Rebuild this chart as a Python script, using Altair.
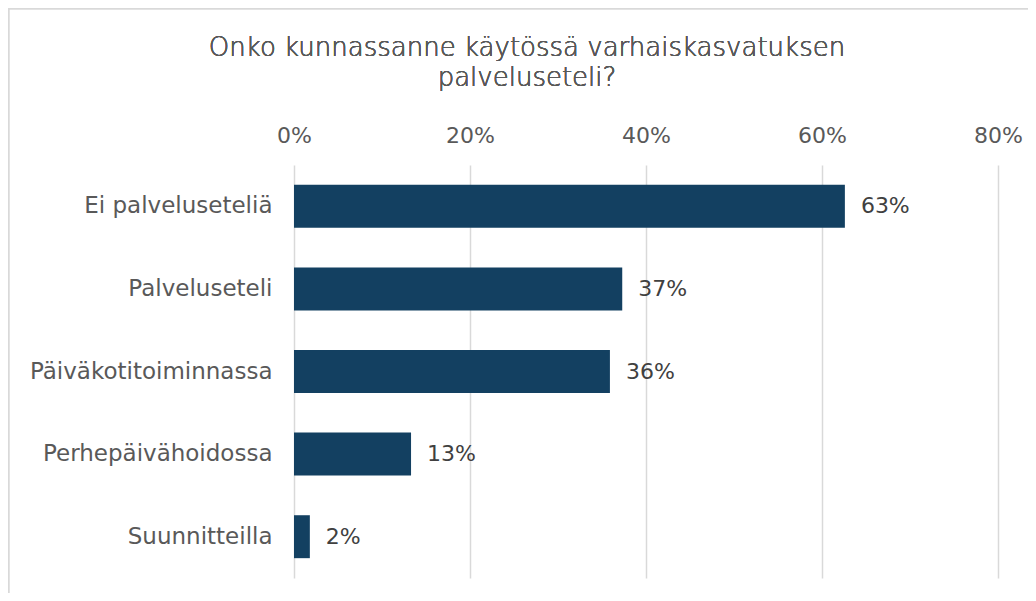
import altair as alt
import pandas as pd

categories = ["Ei palveluseteliä", "Palveluseteli", "Päiväkotitoiminnassa",
              "Perhepäivähoidossa", "Suunnitteilla"]
shares = [0.626, 0.373, 0.359, 0.133, 0.018]
x_ticks = [0, 0.2, 0.4, 0.6, 0.8]
title_lines = ["Onko kunnassanne käytössä varhaiskasvatuksen", "palveluseteli?"]

df = pd.DataFrame({"cat": categories, "share": shares})

FONT = "DejaVu Sans"
GRAY = "#595959"

x = alt.X("share:Q", scale=alt.Scale(domain=[0, 0.8], nice=False),
          axis=alt.Axis(orient="top", format=".0%", values=x_ticks, title=None,
                        domain=False, ticks=False, grid=True, gridColor="#d9d9d9",
                        gridWidth=1.5, labelFont=FONT, labelFontSize=22,
                        labelColor=GRAY, labelPadding=18, labelFlush=False))
y = alt.Y("cat:N", sort=categories,
          scale=alt.Scale(paddingInner=0.48, paddingOuter=0.24),
          axis=alt.Axis(title=None, domain=False, ticks=False, labelFont=FONT,
                        labelFontSize=23, labelColor=GRAY, labelPadding=22,
                        labelLimit=400))

base = alt.Chart(df)
bars = base.mark_bar(color="#134061").encode(x=x, y=y)
labels = base.mark_text(align="left", dx=16, font=FONT, fontSize=22,
                        color="#404040").encode(
    x="share:Q", y=alt.Y("cat:N", sort=categories),
    text=alt.Text("share:Q", format=".0%"))

frame = alt.Chart(df).mark_rect(fill="transparent", stroke="#d9d9d9", strokeWidth=1.5,
                                clip=False).encode(
    x=alt.value(-285.5), x2=alt.value(760), y=alt.value(-156.5), y2=alt.value(460))

title = alt.Chart(df).mark_text(text=title_lines, font=FONT, fontSize=26,
                                fontWeight=300, color=GRAY, lineHeight=30,
                                align="center", baseline="middle").encode(
    x=alt.value(233), y=alt.value(-117))

chart = alt.layer(frame, title, bars, labels).properties(
    width=704, height=413,
    autosize=alt.AutoSizeParams(type="none"),
    padding={"left": 286, "top": 157, "right": 30, "bottom": 15},
).configure_view(stroke=None)

chart.save("out.html", embed_options={"renderer": "svg", "actions": False})
